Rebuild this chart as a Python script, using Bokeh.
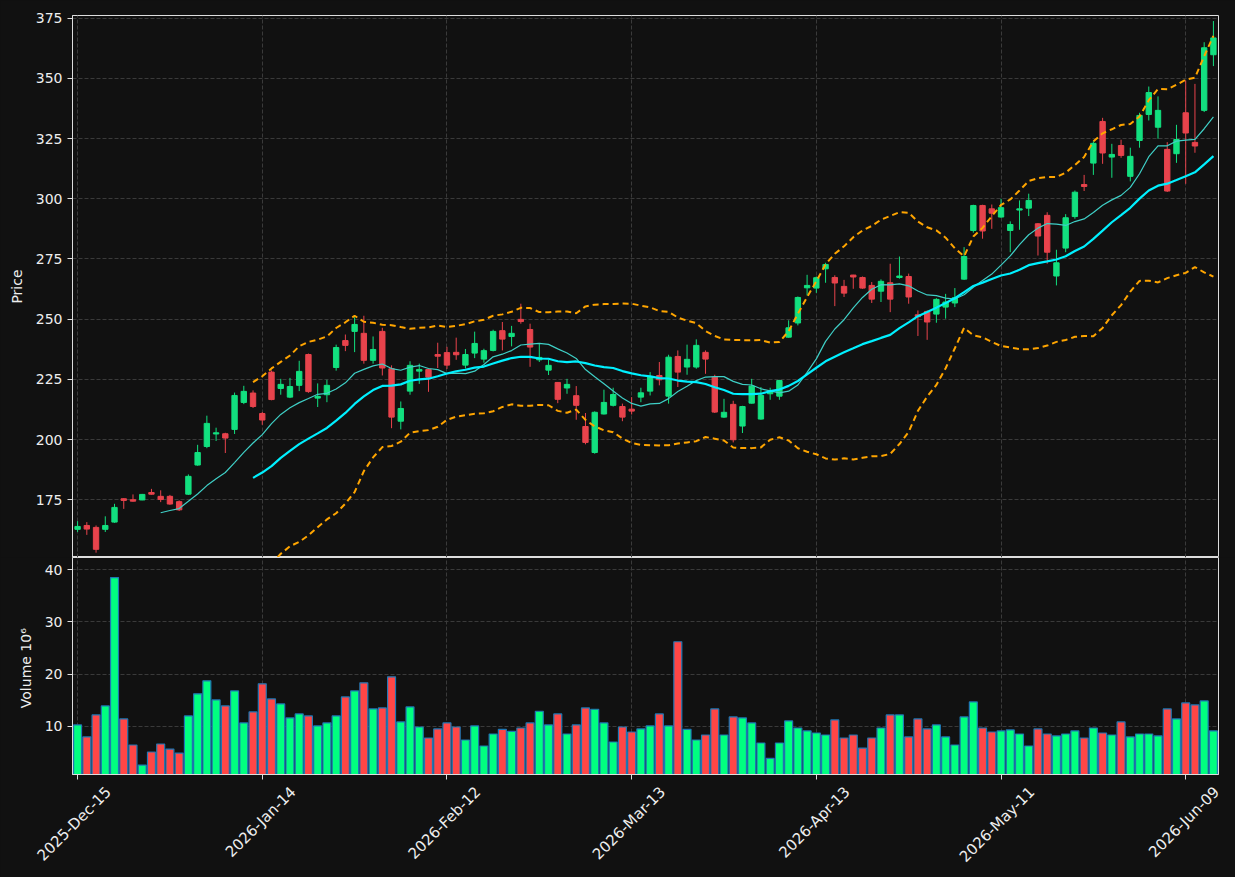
import math
import numpy as np
import pandas as pd
from bokeh.plotting import figure
from bokeh.layouts import column
from bokeh.models import Range1d, FixedTicker, ColumnDataSource, LinearAxis
from bokeh.embed import file_html
from bokeh.resources import INLINE

# ---------------- data ----------------
tick_positions = [0, 20, 40, 60, 80, 100, 120]
tick_labels = ["2025-Dec-15", "2026-Jan-14", "2026-Feb-12", "2026-Mar-13",
               "2026-Apr-13", "2026-May-11", "2026-Jun-09"]

opens = [162.7, 164.3, 163.5, 162.7, 165.7, 175.4, 175.0, 174.9, 178.0, 176.4,
         176.4, 174.2, 177.3, 189.4, 197.1, 202.3, 202.4, 204.2, 215.4, 219.3,
         210.8, 228.0, 221.2, 217.6, 222.5, 235.3, 217.2, 218.6, 229.9, 241.1,
         244.9, 244.1, 232.9, 244.9, 229.4, 207.6, 220.1, 228.4, 229.1, 235.3,
         236.1, 236.2, 230.9, 235.9, 233.4, 237.0, 245.2, 242.8, 249.9, 245.7,
         233.1, 228.8, 223.7, 221.4, 218.2, 205.4, 194.6, 210.6, 214.2, 213.7,
         212.6, 217.6, 220.1, 226.6, 218.0, 234.5, 230.1, 230.1, 236.2, 225.9,
         209.3, 214.6, 205.6, 215.1, 208.5, 219.0, 218.0, 242.5, 248.4, 263.0,
         262.9, 270.9, 267.3, 263.6, 268.3, 267.3, 264.0, 261.6, 265.1, 267.3,
         267.7, 251.8, 253.2, 252.1, 255.0, 256.7, 266.6, 286.8, 297.2, 295.8,
         292.4, 286.8, 295.3, 296.1, 289.6, 293.1, 267.9, 279.5, 292.6, 305.9,
         314.8, 332.1, 317.3, 322.1, 309.3, 324.2, 335.0, 329.7, 320.5, 318.7,
         335.7, 323.4, 336.7, 359.8]
highs = [166.1, 165.7, 164.3, 168.1, 173.3, 175.6, 177.2, 177.4, 179.5, 178.9,
         177.0, 174.7, 185.5, 197.8, 209.9, 204.9, 202.8, 219.5, 222.3, 220.4,
         211.4, 228.7, 225.2, 225.6, 232.7, 235.7, 223.3, 224.8, 239.4, 243.6,
         250.8, 251.4, 242.8, 246.4, 230.8, 215.8, 232.5, 231.5, 229.4, 240.2,
         238.5, 242.3, 237.6, 244.8, 237.7, 245.6, 248.8, 247.2, 256.4, 248.1,
         239.8, 233.1, 223.9, 225.2, 222.2, 211.0, 211.7, 220.7, 221.5, 214.9,
         217.6, 221.5, 228.0, 232.2, 235.2, 237.0, 239.4, 241.6, 237.0, 226.9,
         216.9, 216.1, 214.0, 225.2, 221.8, 221.5, 224.8, 249.5, 259.4, 268.4,
         267.7, 273.4, 268.2, 266.3, 268.4, 267.7, 265.4, 266.5, 273.0, 276.0,
         268.9, 253.6, 253.6, 258.7, 260.5, 262.9, 279.9, 297.5, 297.5, 297.6,
         300.0, 290.6, 299.3, 302.1, 289.9, 294.4, 278.8, 293.6, 303.4, 309.9,
         323.9, 333.6, 322.8, 324.5, 321.2, 335.7, 346.6, 342.5, 323.5, 330.7,
         349.1, 347.7, 365.0, 373.8]
lows = [161.6, 160.4, 153.0, 161.6, 165.4, 171.2, 174.2, 174.8, 177.1, 174.0,
        172.9, 170.3, 177.0, 189.1, 196.4, 199.4, 194.4, 202.3, 214.7, 213.1,
        206.1, 216.3, 218.6, 217.2, 220.1, 219.4, 213.5, 215.5, 228.6, 236.7,
        236.3, 231.5, 231.5, 226.6, 204.7, 204.2, 218.6, 223.1, 219.8, 229.7,
        229.3, 233.1, 229.5, 233.8, 231.9, 236.6, 237.0, 238.7, 248.1, 230.2,
        232.2, 226.8, 215.1, 219.0, 208.2, 198.0, 194.1, 210.4, 213.7, 207.6,
        210.4, 215.5, 218.3, 222.5, 214.9, 221.8, 226.9, 229.4, 227.3, 211.0,
        209.0, 198.8, 202.7, 214.9, 208.2, 216.5, 216.5, 242.3, 247.4, 259.8,
        260.9, 265.1, 255.4, 259.2, 262.6, 262.6, 256.7, 257.1, 252.9, 266.8,
        256.4, 243.0, 241.4, 248.5, 250.2, 255.0, 266.3, 285.9, 283.4, 287.5,
        292.1, 277.8, 287.1, 292.8, 276.4, 273.0, 264.0, 277.8, 291.7, 303.2,
        309.9, 314.5, 308.7, 317.0, 307.2, 321.2, 332.5, 324.9, 302.8, 314.9,
        306.2, 319.1, 336.0, 355.1]
closes = [163.9, 162.8, 154.4, 164.3, 171.8, 174.7, 174.4, 177.2, 177.3, 175.1,
          173.2, 170.8, 184.7, 194.6, 206.7, 202.8, 200.6, 218.3, 220.0, 213.7,
          208.1, 216.6, 222.9, 222.0, 228.3, 219.9, 217.9, 222.5, 238.2, 239.1,
          247.8, 232.9, 237.4, 229.7, 209.3, 212.9, 230.8, 229.1, 225.9, 234.6,
          230.9, 235.2, 235.3, 239.9, 236.9, 244.9, 241.7, 244.1, 249.0, 238.4,
          234.1, 230.8, 216.7, 222.9, 214.2, 198.8, 211.3, 215.4, 218.7, 209.3,
          211.8, 219.4, 226.2, 224.8, 234.2, 228.0, 233.3, 239.1, 233.4, 211.4,
          211.3, 199.9, 213.7, 222.2, 218.3, 219.7, 224.5, 246.4, 259.0, 264.0,
          267.2, 272.7, 265.0, 260.8, 267.5, 262.9, 258.3, 265.7, 258.3, 267.9,
          259.2, 251.0, 248.8, 258.2, 257.1, 258.9, 276.0, 297.2, 286.6, 294.0,
          296.3, 289.3, 295.8, 299.3, 284.5, 277.8, 273.4, 292.1, 302.7, 305.1,
          323.0, 319.0, 318.4, 318.0, 317.6, 334.6, 344.1, 336.7, 303.2, 324.6,
          327.3, 321.9, 362.7, 366.8]
volumes = [10.26, 7.96, 12.18, 13.90, 38.47, 11.41, 6.42, 2.58, 5.08, 6.61,
           5.65, 4.88, 11.99, 16.21, 18.70, 15.06, 13.90, 16.78, 10.64, 12.75,
           18.13, 15.25, 14.29, 11.60, 12.37, 11.99, 10.07, 10.64, 11.99, 15.63,
           16.78, 18.32, 13.33, 13.52, 19.47, 10.83, 13.71, 9.87, 7.76, 9.49,
           10.64, 9.87, 7.38, 10.07, 6.23, 8.53, 9.43, 9.04, 9.68, 10.64,
           12.88, 10.26, 12.37, 8.53, 10.26, 13.52, 13.27, 10.64, 7.00, 9.87,
           8.91, 9.49, 10.07, 12.37, 10.07, 26.19, 9.43, 7.38, 8.34, 13.33,
           8.34, 11.79, 11.60, 10.64, 6.80, 3.86, 6.80, 11.03, 9.68, 9.11,
           8.72, 8.34, 11.22, 7.76, 8.34, 5.84, 7.76, 9.68, 12.18, 12.18,
           7.96, 11.41, 9.49, 10.26, 7.96, 6.42, 11.79, 14.67, 9.68, 8.91,
           9.11, 9.30, 8.53, 6.23, 9.49, 8.53, 8.15, 8.53, 9.11, 7.76,
           9.68, 8.72, 8.34, 10.83, 7.96, 8.53, 8.53, 8.15, 13.33, 11.41,
           14.48, 14.10, 14.86, 9.11]

# ---------------- style ----------------
BG = "#111111"
GRID = "#3a3a3a"
TXT = "#eeeeee"
SPINE = "#dddddd"
UP, DOWN = "#12e07f", "#e8434c"
VUP, VDOWN = "#00ff80", "#ff4646"
FONT = "DejaVu Sans"
FS = "14px"
FS_DATE = "15px"

W = 1235
LEFT, RIGHT = 72, 17
PRICE_H = 557
VOL_FRAME_H = 217
VOL_BOTTOM = 877 - PRICE_H - VOL_FRAME_H

o = np.array(opens); h = np.array(highs); l = np.array(lows); c = np.array(closes)
v = np.array(volumes)
x = np.arange(len(c))
inc = c >= o

src = ColumnDataSource(dict(
    x=x, high=h, low=l,
    top=np.maximum(o, c), bottom=np.minimum(o, c),
    ccol=np.where(inc, UP, DOWN), vol=v, vcol=np.where(inc, VUP, VDOWN)))

cs = pd.Series(c)
sma10 = cs.rolling(10).mean().to_numpy()
sma20 = cs.rolling(20).mean().to_numpy()
sd20 = cs.rolling(20).std().to_numpy()
bb_up = sma20 + 2 * sd20
bb_lo = sma20 - 2 * sd20

x0, x1 = -0.55, len(c) - 0.45
xr = Range1d(x0, x1)
ppu = (W - LEFT - RIGHT) / (x1 - x0)   # pixels per bar


def style_common(fig):
    fig.background_fill_color = BG
    fig.border_fill_color = BG
    fig.outline_line_color = SPINE
    fig.outline_line_width = 1
    fig.yaxis.axis_line_color = SPINE
    fig.yaxis.major_tick_line_color = SPINE
    fig.yaxis.major_tick_in = 0
    fig.yaxis.major_tick_out = 5
    fig.yaxis.minor_tick_line_color = None
    fig.yaxis.major_label_text_color = TXT
    fig.yaxis.major_label_text_font = FONT
    fig.yaxis.major_label_text_font_size = FS
    fig.yaxis.major_label_standoff = 5
    fig.yaxis.axis_label_text_color = TXT
    fig.yaxis.axis_label_text_font = FONT
    fig.yaxis.axis_label_text_font_size = FS
    fig.yaxis.axis_label_text_font_style = "normal"
    fig.yaxis.axis_label_standoff = 8
    fig.xgrid.ticker = FixedTicker(ticks=tick_positions)
    for g in (fig.xgrid, fig.ygrid):
        g.grid_line_color = GRID
        g.grid_line_alpha = 1.0
        g.grid_line_dash = "4 2"
        g.grid_line_width = 1


# ---------------- price panel ----------------
p = figure(width=W, height=PRICE_H, x_range=xr, y_range=Range1d(151.0, 376.1),
           output_backend="svg", toolbar_location=None,
           min_border_left=LEFT, min_border_right=RIGHT, min_border_top=15,
           min_border_bottom=0)
style_common(p)
p.xaxis.visible = False
p.yaxis.ticker = FixedTicker(ticks=[175, 200, 225, 250, 275, 300, 325, 350, 375])
p.yaxis.axis_label = "Price"

p.segment(x0="x", y0="low", x1="x", y1="high", line_color="ccol", line_width=1,
          source=src)
p.vbar(x="x", width=0.58, top="top", bottom="bottom", fill_color="ccol",
       line_color="ccol", line_width=1, source=src)
p.line(x, sma10, line_color="#3fcfc6", line_width=1.2)
p.line(x, sma20, line_color="#00f0ff", line_width=2.2)
p.line(x, bb_up, line_color="#ffa500", line_width=2, line_dash="6 4")
p.line(x, bb_lo, line_color="#ffa500", line_width=2, line_dash="6 4")

# ---------------- volume panel ----------------
vlo, vhi = 0.3 * v.min(), 1.1 * v.max()
q = figure(width=W, height=VOL_FRAME_H + VOL_BOTTOM, x_range=xr,
           y_range=Range1d(vlo, vhi),
           output_backend="svg", toolbar_location=None,
           min_border_left=LEFT, min_border_right=RIGHT, min_border_top=0,
           min_border_bottom=VOL_BOTTOM)
style_common(q)
q.yaxis.ticker = FixedTicker(ticks=[10, 20, 30, 40])
q.yaxis.axis_label = "Volume  10\u2076"

# axis 1: tick marks at the dates (no text)
q.xaxis.ticker = FixedTicker(ticks=tick_positions)
q.xaxis.major_label_overrides = {t: "" for t in tick_positions}
q.xaxis.major_label_text_font_size = "1px"
q.xaxis.major_label_standoff = 0
q.xaxis.axis_line_color = SPINE
q.xaxis.major_tick_line_color = SPINE
q.xaxis.major_tick_in = 0
q.xaxis.major_tick_out = 5
q.xaxis.minor_tick_line_color = None

# axis 2: the rotated date texts, shifted so each text is centred on its tick
shift = 31 / ppu
lab_ticks = [t + shift for t in tick_positions]
lab_axis = LinearAxis(ticker=FixedTicker(ticks=lab_ticks),
                      major_label_overrides={lt: lab for lt, lab in zip(lab_ticks, tick_labels)},
                      major_label_orientation=math.pi / 4,
                      major_label_text_color=TXT, major_label_text_font=FONT,
                      major_label_text_font_size=FS_DATE, major_label_standoff=10,
                      axis_line_color=None, major_tick_line_color=None,
                      minor_tick_line_color=None, major_tick_in=0, major_tick_out=0)
q.add_layout(lab_axis, "below")

q.vbar(x="x", width=0.86, top="vol", bottom=0, fill_color="vcol",
       line_color="#1f77b4", line_width=1.2, source=src)

layout = column(p, q, spacing=0)
layout.styles = {"background-color": BG}
open("out.html", "w").write(file_html(layout, INLINE))
